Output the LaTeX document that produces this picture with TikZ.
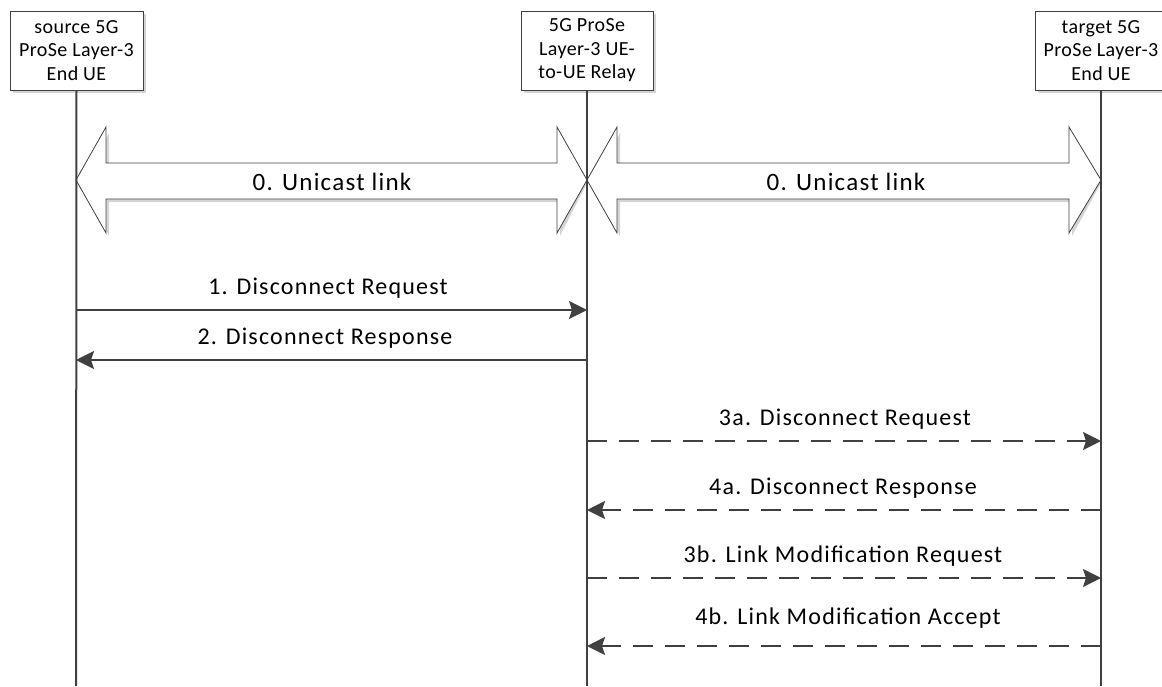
\documentclass[tikz,border=0pt]{standalone}
\usepackage{fontspec}
\setmainfont{Carlito}
\newfontfamily\lblfont[LetterSpace=5]{Carlito}
\newfontfamily\boxfont[LetterSpace=2]{Carlito}
\usetikzlibrary{arrows.meta}
\definecolor{ln}{HTML}{404040}
\definecolor{shd}{HTML}{D4D4D4}
\begin{document}
\begin{tikzpicture}[x=1pt,y=-1pt,
  entity/.style={draw=ln, line width=0.8pt, fill=white, minimum width=133pt, minimum height=79pt, align=center, font=\boxfont\fontsize{20}{23.5}\selectfont, inner sep=0pt},
  life/.style={draw=ln, line width=2pt},
  msg/.style={draw=ln, line width=2pt, -{Stealth[length=18pt,width=18pt,inset=3pt]}},
  dmsg/.style={msg, dash pattern=on 20pt off 12pt},
  lbl/.style={font=\lblfont\fontsize{24}{28}\selectfont, inner sep=0pt},
  ulbl/.style={font=\lblfont\fontsize{25}{29}\selectfont, inner sep=0pt},
  blk/.style={draw=ln, line width=0.8pt, fill=white},
  blkshadow/.style={fill=shd}
]
\useasboundingbox (0,0) rectangle (1162,686);
\clip (0,0) rectangle (1162,686);

% entity boxes with shadows
\fill[shd] (13,14) rectangle (146,93);
\fill[shd] (524,14) rectangle (656,93);
\fill[shd] (1038,14) rectangle (1170,93);
\node[entity] (src) at (76.5,50.5) {source 5G\\ProSe Layer-3\\End UE};
\node[entity, minimum width=132pt] (rel) at (587,50.5) {5G ProSe\\Layer-3 UE-\\to-UE Relay};
\node[entity, minimum width=132pt] (tgt) at (1101,50.5) {target 5G\\ProSe Layer-3\\End UE};

% block arrows (shadows)
\fill[blkshadow, shift={(3,3)}] (79,180) -- (106,130) -- (106,163) -- (557,163) -- (557,130) -- (584,180) -- (557,233) -- (557,199) -- (106,199) -- (106,233) -- cycle;
\fill[blkshadow, shift={(3,3)}] (590,180) -- (617,130) -- (617,163) -- (1069,163) -- (1069,130) -- (1098,180) -- (1069,233) -- (1069,199) -- (617,199) -- (617,233) -- cycle;
% block arrows
\draw[blk] (76,180) -- (106,127) -- (106,163) -- (557,163) -- (557,127) -- (587,180) -- (557,233) -- (557,199) -- (106,199) -- (106,233) -- cycle;
\draw[blk] (587,180) -- (617,127) -- (617,163) -- (1069,163) -- (1069,127) -- (1101,180) -- (1069,233) -- (1069,199) -- (617,199) -- (617,233) -- cycle;
\node[ulbl] (u1) at (332,182) {0. Unicast link};
\node[ulbl] (u2) at (846,182) {0. Unicast link};

% lifelines
\coordinate (srcend) at (76,686);
\coordinate (relend) at (587,686);
\coordinate (tgtend) at (1101,686);
\draw[life] (src.south) -- (srcend);
\draw[life] (rel.south) -- (relend);
\draw[life] (tgt.south) -- (tgtend);

% message end points
\coordinate (m1a) at (76,310);   \coordinate (m1b) at (587,310);
\coordinate (m2a) at (587,360);  \coordinate (m2b) at (76,360);
\coordinate (m3a) at (587,441);  \coordinate (m3b) at (1101,441);
\coordinate (m4a) at (1101,510); \coordinate (m4b) at (587,510);
\coordinate (m5a) at (587,578);  \coordinate (m5b) at (1101,578);
\coordinate (m6a) at (1101,646); \coordinate (m6b) at (587,646);

\draw[msg] (m1a) -- (m1b);
\draw[msg] (m2a) -- (m2b);
\draw[dmsg] (m3a) -- (m3b);
\draw[dmsg] (m4a) -- (m4b);
\draw[dmsg] (m5a) -- (m5b);
\draw[dmsg] (m6a) -- (m6b);

\node[lbl] (l1) at (328,288) {1. Disconnect Request};
\node[lbl] (l2) at (325,338) {2. Disconnect Response};
\node[lbl] (l3) at (845,419) {3a. Disconnect Request};
\node[lbl] (l4) at (843,488) {4a. Disconnect Response};
\node[lbl] (l5) at (843,556) {3b. Link Modification Request};
\node[lbl] (l6) at (848,618) {4b. Link Modification Accept};
\end{tikzpicture}
\end{document}
